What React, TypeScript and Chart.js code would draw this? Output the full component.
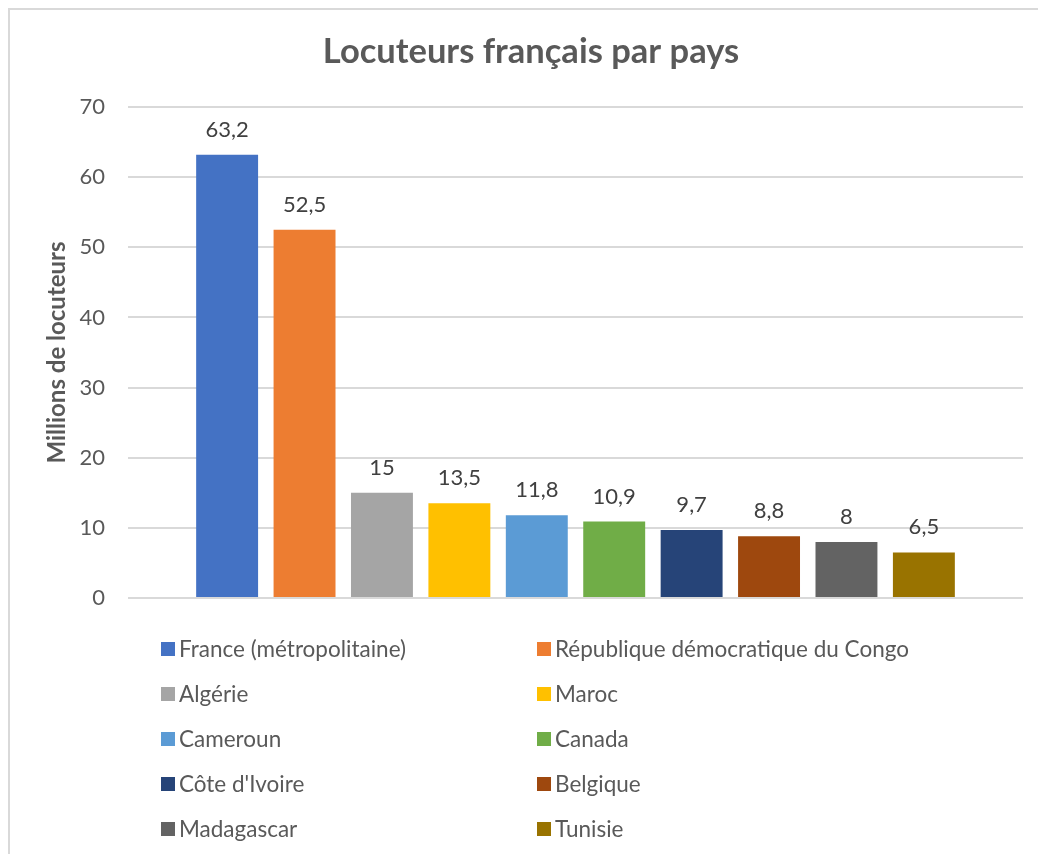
import React, { useEffect, useRef } from "react";
import { Chart, registerables } from "chart.js";

Chart.register(...registerables);

const chartTitle = "Locuteurs français par pays";
const yAxisTitle = "Millions de locuteurs";
const countries = [
  "France (métropolitaine)",
  "République démocratique du Congo",
  "Algérie",
  "Maroc",
  "Cameroun",
  "Canada",
  "Côte d'Ivoire",
  "Belgique",
  "Madagascar",
  "Tunisie",
];
const speakers = [63.2, 52.5, 15, 13.5, 11.8, 10.9, 9.7, 8.8, 8, 6.5];
const barColors = [
  "#4472C4",
  "#ED7D31",
  "#A5A5A5",
  "#FFC000",
  "#5B9BD5",
  "#70AD47",
  "#264478",
  "#9E480E",
  "#636363",
  "#997300",
];
const yTicks = [0, 10, 20, 30, 40, 50, 60, 70];

const FONT = "Lato, 'Open Sans', sans-serif";

const valueLabels = {
  id: "valueLabels",
  afterDatasetsDraw(chart: any) {
    const ctx = chart.ctx;
    ctx.save();
    ctx.font = `22px ${FONT}`;
    ctx.fillStyle = "#404040";
    ctx.textAlign = "center";
    ctx.textBaseline = "alphabetic";
    chart.data.datasets.forEach((ds: any, i: number) => {
      const el = chart.getDatasetMeta(i).data[0];
      if (!el) return;
      ctx.fillText(String(ds.data[0]).replace(".", ","), el.x, el.y - 18);
    });
    ctx.restore();
  },
};

const twoColumnLegend = {
  id: "twoColumnLegend",
  afterDraw(chart: any) {
    const ctx = chart.ctx;
    const area = chart.chartArea;
    const colX = [area.left + 33, area.left + 409];
    ctx.save();
    ctx.font = `22.5px ${FONT}`;
    ctx.textAlign = "left";
    ctx.textBaseline = "alphabetic";
    chart.data.datasets.forEach((ds: any, i: number) => {
      const col = i % 2;
      const row = Math.floor(i / 2);
      const cy = area.bottom + 51 + row * 45;
      const sx = colX[col];
      ctx.fillStyle = ds.backgroundColor;
      ctx.fillRect(sx, cy - 7, 14, 14);
      ctx.fillStyle = "#595959";
      ctx.fillText(ds.label, sx + 18, cy + 7.5);
    });
    ctx.restore();
  },
};

export default function App() {
  const canvasRef = useRef<HTMLCanvasElement | null>(null);

  useEffect(() => {
    if (!canvasRef.current) return;
    const chart = new Chart(canvasRef.current, {
      type: "bar",
      data: {
        labels: [""],
        datasets: countries.map((c, i) => ({
          label: c,
          data: [speakers[i]],
          backgroundColor: barColors[i],
          borderWidth: 0,
          categoryPercentage: 0.865,
          barPercentage: 0.8,
        })),
      },
      options: {
        responsive: false,
        animation: false,
        layout: { padding: { top: 0, right: 29, bottom: 256, left: 29 } },
        plugins: {
          legend: { display: false },
          tooltip: { enabled: false },
          title: {
            display: true,
            text: chartTitle,
            color: "#595959",
            font: { family: FONT, size: 34.5, weight: "bold" },
            padding: { top: 21.3, bottom: 34.3 },
          },
        },
        scales: {
          x: { display: false },
          y: {
            min: 0,
            max: 70,
            afterBuildTicks: (scale: any) => {
              scale.ticks = yTicks.map((v) => ({ value: v }));
            },
            afterFit: (scale: any) => {
              scale.width = 89;
            },
            ticks: {
              color: "#595959",
              font: { family: FONT, size: 22 },
              padding: 23,
            },
            grid: { color: "#d9d9d9", lineWidth: 2, drawTicks: false },
            border: { display: false },
            title: {
              display: true,
              text: yAxisTitle,
              color: "#595959",
              font: { family: FONT, size: 24, weight: "bold" },
              padding: { top: 3.6, bottom: 0 },
            },
          },
        },
      },
      plugins: [valueLabels, twoColumnLegend],
    } as any);
    return () => chart.destroy();
  }, []);

  return (
    <div
      style={{
        position: "absolute",
        left: 0,
        top: 0,
        width: 1038,
        height: 854,
        overflow: "hidden",
        background: "#fff",
      }}
    >
      <div
        style={{
          position: "absolute",
          left: 8,
          top: 8,
          width: 1060,
          height: 870,
          borderLeft: "2px solid #d9d9d9",
          borderTop: "2px solid #d9d9d9",
          boxSizing: "border-box",
        }}
      >
        <canvas
          ref={canvasRef}
          width={1042}
          height={844}
          style={{ display: "block", width: 1042, height: 844 }}
        />
      </div>
    </div>
  );
}
